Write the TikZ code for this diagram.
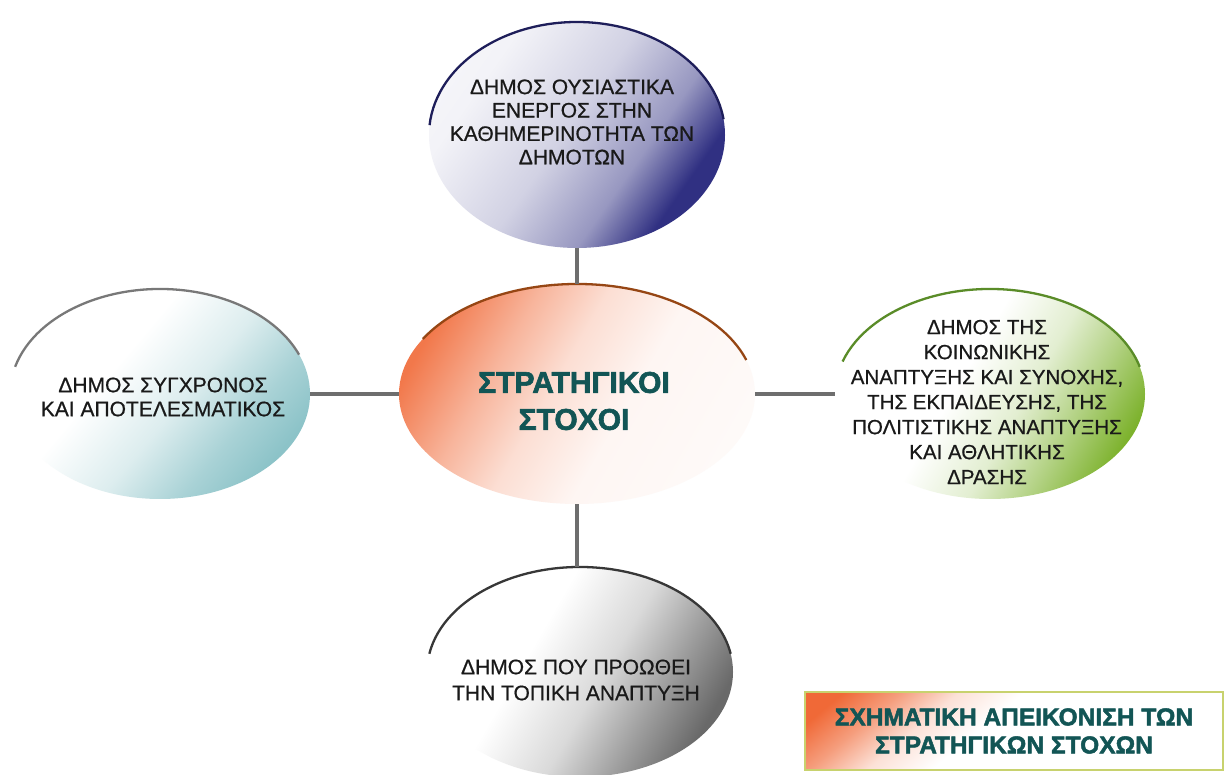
\documentclass[tikz,border=0pt]{standalone}
\usepackage{fontspec}
\setmainfont{Liberation Sans}
\newfontfamily\semib[FakeBold=0.7]{Liberation Sans}
\newfontfamily\heavyb[FakeBold=2]{Liberation Sans Bold}
\usetikzlibrary{shapes.geometric}
\definecolor{navyc}{RGB}{48,48,130}
\definecolor{navyarc}{RGB}{30,30,90}
\definecolor{orangec}{RGB}{240,105,55}
\definecolor{orangearc}{RGB}{150,70,20}
\definecolor{tealc}{RGB}{140,195,200}
\definecolor{grayarc}{RGB}{120,120,120}
\definecolor{greenc}{RGB}{125,178,45}
\definecolor{greenarc}{RGB}{90,140,40}
\definecolor{grayc}{RGB}{105,105,105}
\definecolor{darkarc}{RGB}{55,55,55}
\definecolor{linkc}{RGB}{110,110,110}
\definecolor{titlec}{RGB}{18,85,85}
\definecolor{boxline}{RGB}{200,210,110}
\pgfdeclareverticalshading{navyshade}{100bp}{color(0bp)=(white); color(30bp)=(navyc!6); color(48bp)=(navyc!22); color(62bp)=(navyc!50); color(72bp)=(navyc); color(100bp)=(navyc)}
\pgfdeclareverticalshading{orangeshade}{100bp}{color(0bp)=(white); color(42bp)=(orangec!6); color(54bp)=(orangec!22); color(64bp)=(orangec!50); color(76bp)=(orangec!90); color(100bp)=(orangec)}
\pgfdeclareverticalshading{tealshade}{100bp}{color(0bp)=(white); color(40bp)=(white); color(54bp)=(tealc!30); color(66bp)=(tealc!75); color(75bp)=(tealc); color(100bp)=(tealc)}
\pgfdeclareverticalshading{greenshade}{100bp}{color(0bp)=(white); color(44bp)=(white); color(56bp)=(greenc!22); color(66bp)=(greenc!60); color(76bp)=(greenc); color(100bp)=(greenc)}
\pgfdeclareverticalshading{grayshade}{100bp}{color(0bp)=(white); color(40bp)=(white); color(54bp)=(grayc!25); color(65bp)=(grayc!65); color(75bp)=(grayc); color(100bp)=(grayc)}
\pgfdeclareverticalshading{boxshade}{100bp}{color(0bp)=(white); color(55bp)=(white); color(64bp)=(orangec!20); color(72bp)=(orangec!65); color(80bp)=(orangec); color(100bp)=(orangec)}
\begin{document}
\begin{tikzpicture}[x=1pt,y=1pt]
\tikzset{
 bub/.style={ellipse, inner sep=0pt, shade, draw=none},
 txt/.style={align=center, text=black!90, inner sep=0pt, font=\semib\fontsize{21}{24}\selectfont},
 ttl/.style={align=center, text=titlec, inner sep=0pt, font=\heavyb\fontsize{30}{37}\selectfont},
 link/.style={draw=linkc, line width=3.5pt},
 rim/.style={line width=2.3pt},
}
\useasboundingbox (0,0) rectangle (1225,774);
\fill[white] (0,0) rectangle (1225,774);
% ellipses
\node[bub, shading=navyshade, shading angle=-125, minimum width=296, minimum height=226] (top) at (577,639) {};
\node[bub, shading=orangeshade, shading angle=60, minimum width=356, minimum height=220] (cen) at (577,380) {};
\node[bub, shading=tealshade, shading angle=-130, minimum width=300, minimum height=210] (left) at (160,380) {};
\node[bub, shading=greenshade, shading angle=-120, minimum width=310, minimum height=210] (right) at (990,380) {};
\node[bub, shading=grayshade, shading angle=-120, minimum width=306, minimum height=210] (bot) at (580,102) {};
% rims
\draw[rim, draw=navyarc] ([shift={(175:148 and 113)}]top.center) arc[start angle=175, end angle=8, x radius=148, y radius=113];
\draw[rim, draw=orangearc] ([shift={(150:178 and 110)}]cen.center) arc[start angle=150, end angle=18, x radius=178, y radius=110];
\draw[rim, draw=grayarc] ([shift={(165:150 and 105)}]left.center) arc[start angle=165, end angle=22, x radius=150, y radius=105];
\draw[rim, draw=greenarc] ([shift={(162:155 and 105)}]right.center) arc[start angle=162, end angle=15, x radius=155, y radius=105];
\draw[rim, draw=darkarc] ([shift={(170:153 and 105)}]bot.center) arc[start angle=170, end angle=10, x radius=153, y radius=105];
% connectors
\draw[link] (top) -- (cen);
\draw[link] (left) -- (cen);
\draw[link] (cen) -- (right);
\draw[link] (cen.south) -- (cen.south |- bot.north);
% texts
\node[txt, font=\semib\fontsize{21}{23.4}\selectfont] (toptext) at (572,652) {ΔΗΜΟΣ ΟΥΣΙΑΣΤΙΚΑ\\ΕΝΕΡΓΟΣ ΣΤΗΝ\\ΚΑΘΗΜΕΡΙΝΟΤΗΤΑ ΤΩΝ\\ΔΗΜΟΤΩΝ};
\node[ttl] (centext) at (574,373) {ΣΤΡΑΤΗΓΙΚΟΙ\\ΣΤΟΧΟΙ};
\node[txt] (lefttext) at (163,377) {ΔΗΜΟΣ ΣΥΓΧΡΟΝΟΣ\\ΚΑΙ ΑΠΟΤΕΛΕΣΜΑΤΙΚΟΣ};
\node[txt, font=\semib\fontsize{20.5}{25}\selectfont] (righttext) at (987,372) {ΔΗΜΟΣ ΤΗΣ\\ΚΟΙΝΩΝΙΚΗΣ\\ΑΝΑΠΤΥΞΗΣ ΚΑΙ ΣΥΝΟΧΗΣ,\\ΤΗΣ ΕΚΠΑΙΔΕΥΣΗΣ, ΤΗΣ\\ΠΟΛΙΤΙΣΤΙΚΗΣ ΑΝΑΠΤΥΞΗΣ\\ΚΑΙ ΑΘΛΗΤΙΚΗΣ\\ΔΡΑΣΗΣ};
\node[txt, font=\semib\fontsize{21}{26}\selectfont] (bottext) at (576,94) {ΔΗΜΟΣ ΠΟΥ ΠΡΟΩΘΕΙ\\ΤΗΝ ΤΟΠΙΚΗ ΑΝΑΠΤΥΞΗ};
% caption box
\node[draw=boxline, line width=1.2pt, shade, shading=boxshade, shading angle=40, minimum width=418, minimum height=78, inner sep=0pt, align=center, text=titlec, font=\heavyb\fontsize{24.5}{28}\selectfont] (cap) at (1014,43) {ΣΧΗΜΑΤΙΚΗ ΑΠΕΙΚΟΝΙΣΗ ΤΩΝ\\ΣΤΡΑΤΗΓΙΚΩΝ ΣΤΟΧΩΝ};
\end{tikzpicture}
\end{document}
